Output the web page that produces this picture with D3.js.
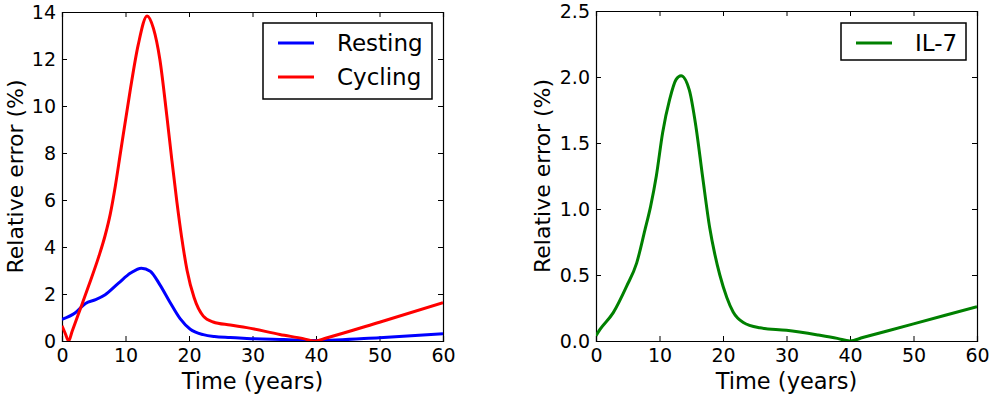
<!DOCTYPE html>
<html>
<head>
<meta charset="utf-8">
<script src="https://cdn.jsdelivr.net/npm/d3@7"></script>
<style>
  body { margin: 0; background: #fff; }
  svg { display: block; font-family: "DejaVu Sans", sans-serif; }
</style>
</head>
<body>
<svg id="chart" width="992" height="398"></svg>
<script>
// Time points (years) and relative error (%)
const restingT = [0, 2.1, 3.7, 5.3, 6.8, 8.9, 10.8, 12.5, 13.9, 15.4, 17.0, 18.6, 20.2, 22.25, 24, 26.5, 29.1, 35, 40, 50, 60];
const restingV = [0.92, 1.2, 1.6, 1.76, 1.97, 2.46, 2.89, 3.1, 2.97, 2.4, 1.65, 0.95, 0.5, 0.27, 0.19, 0.15, 0.11, 0.06, 0.02, 0.14, 0.31];

const cyclingT = [0, 0.5, 1.05, 1.6, 3.2, 4.2, 5.8, 6.8, 7.6, 8.4, 9.2, 10.7, 12, 13.4, 14.4, 15.4, 16.5, 17.3, 18.1, 18.85, 19.7, 20.8, 22.25, 23.8, 26.5, 29.1, 34.3, 38, 39.8, 41.5, 50, 60];
const cyclingV = [0.65, 0.33, 0, 0.42, 1.6, 2.35, 3.6, 4.5, 5.4, 6.6, 8.0, 10.6, 12.6, 13.83, 13.3, 12.0, 9.6, 7.7, 5.9, 4.4, 3.0, 1.85, 1.06, 0.81, 0.68, 0.57, 0.28, 0.1, 0, 0.12, 0.8, 1.63];

const il7T = [0, 0.63, 2.72, 4.83, 6.4, 7.7, 8.6, 9.5, 10.5, 11.6, 12.6, 13.4, 14.7, 15.75, 16.8, 17.9, 18.7, 19.5, 20.6, 21.6, 23.2, 25.8, 30, 35, 38, 40, 42, 50, 60];
const il7V = [0.04, 0.088, 0.215, 0.416, 0.59, 0.84, 1.02, 1.25, 1.58, 1.83, 1.98, 2.01, 1.9, 1.62, 1.24, 0.86, 0.66, 0.5, 0.33, 0.22, 0.14, 0.1, 0.081, 0.045, 0.02, 0, 0.026, 0.13, 0.26];

const xTicks = [0, 10, 20, 30, 40, 50, 60];
const leftYTicks = [0, 2, 4, 6, 8, 10, 12, 14];
const rightYTicks = [0, 0.5, 1.0, 1.5, 2.0, 2.5];

const svg = d3.select("#chart");

function panel(opts) {
  const x = d3.scaleLinear().domain([0, 60]).range([opts.left, opts.right]);
  const y = d3.scaleLinear().domain([0, opts.yMax]).range([opts.bottom, opts.top]);
  const g = svg.append("g");

  // Axes with inward ticks on all four sides
  const tick = 5;
  g.append("g")
    .attr("transform", `translate(0,${opts.bottom})`)
    .call(d3.axisBottom(x).tickValues(xTicks).tickSize(-tick).tickPadding(8).tickFormat(d3.format("d")));
  g.append("g")
    .attr("transform", `translate(0,${opts.top})`)
    .call(d3.axisTop(x).tickValues(xTicks).tickSize(-tick).tickFormat(""));
  g.append("g")
    .attr("transform", `translate(${opts.left},0)`)
    .call(d3.axisLeft(y).tickValues(opts.yTicks).tickSize(-tick).tickPadding(6).tickFormat(opts.fmt));
  g.append("g")
    .attr("transform", `translate(${opts.right},0)`)
    .call(d3.axisRight(y).tickValues(opts.yTicks).tickSize(-tick).tickFormat(""));

  g.selectAll(".domain").attr("stroke", "#000").attr("stroke-width", 1.2);
  g.selectAll(".tick line").attr("stroke", "#000");
  g.selectAll(".tick text").attr("font-size", 19).attr("fill", "#000")
    .attr("font-family", "DejaVu Sans, sans-serif");

  // Clip lines to the plot frame
  const clipId = "clip" + opts.left;
  svg.append("clipPath").attr("id", clipId)
    .append("rect")
    .attr("x", opts.left).attr("y", opts.top - 3)
    .attr("width", opts.right - opts.left).attr("height", opts.bottom - opts.top + 3);

  const line = d3.line().curve(d3.curveMonotoneX).x(d => x(d[0])).y(d => y(d[1]));
  opts.series.forEach(s => {
    g.append("path")
      .datum(d3.zip(s.t, s.v))
      .attr("clip-path", `url(#${clipId})`)
      .attr("fill", "none")
      .attr("stroke", s.color)
      .attr("stroke-width", 3)
      .attr("stroke-linejoin", "round")
      .attr("d", line);
  });

  // Axis titles
  g.append("text")
    .attr("x", (opts.left + opts.right) / 2)
    .attr("y", 389)
    .attr("text-anchor", "middle")
    .attr("font-size", 22.5)
    .text("Time (years)");
  g.append("text")
    .attr("transform", `translate(${opts.ylabelX},${(opts.top + opts.bottom) / 2}) rotate(-90)`)
    .attr("text-anchor", "middle")
    .attr("font-size", 22)
    .text("Relative error (%)");

  // Legend
  const lg = opts.legend;
  g.append("rect")
    .attr("x", lg.x).attr("y", lg.y)
    .attr("width", lg.w).attr("height", lg.h)
    .attr("fill", "#fff").attr("stroke", "#000").attr("stroke-width", 1.5);
  opts.series.forEach((s, i) => {
    const ly = lg.y + 20 + i * 34;
    g.append("line")
      .attr("x1", lg.x + 15).attr("x2", lg.x + 51)
      .attr("y1", ly).attr("y2", ly)
      .attr("stroke", s.color).attr("stroke-width", 3);
    g.append("text")
      .attr("x", lg.x + 74).attr("y", ly + 8)
      .attr("font-size", 23)
      .text(s.name);
  });
}

panel({
  left: 62, right: 443, top: 12, bottom: 341, yMax: 14,
  yTicks: leftYTicks, fmt: d3.format("d"), ylabelX: 23,
  series: [
    { name: "Resting", t: restingT, v: restingV, color: "#0000ff" },
    { name: "Cycling", t: cyclingT, v: cyclingV, color: "#ff0000" }
  ],
  legend: { x: 263, y: 23, w: 169, h: 76 }
});

panel({
  left: 596, right: 977, top: 11, bottom: 341, yMax: 2.5,
  yTicks: rightYTicks, fmt: d3.format(".1f"), ylabelX: 550,
  series: [
    { name: "IL-7", t: il7T, v: il7V, color: "#008000" }
  ],
  legend: { x: 841, y: 23, w: 125, h: 37 }
});
</script>
</body>
</html>
